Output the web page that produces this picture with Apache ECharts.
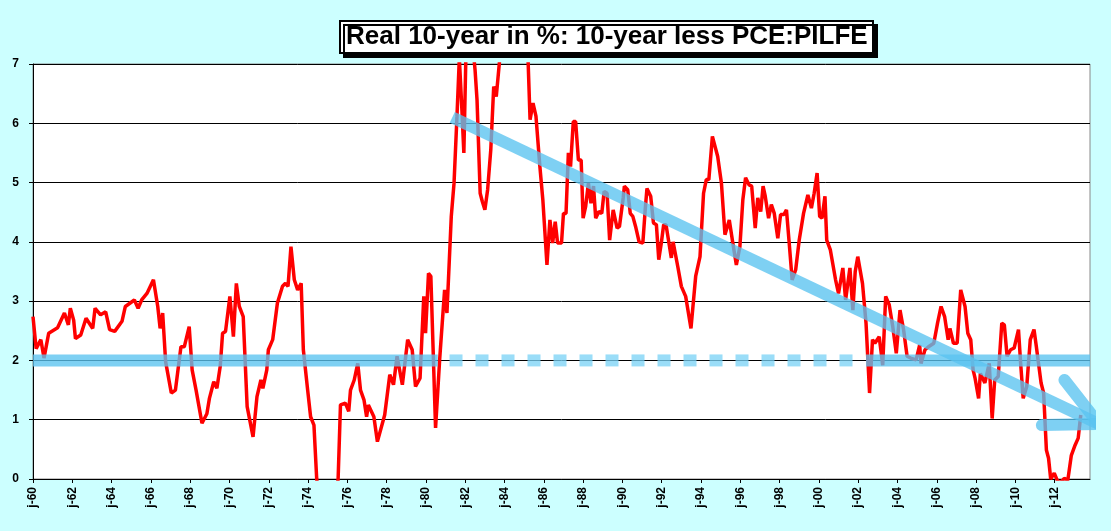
<!DOCTYPE html>
<html><head><meta charset="utf-8">
<script src="https://cdn.jsdelivr.net/npm/echarts@6/dist/echarts.min.js"></script>
<style>html,body{margin:0;padding:0;background:#CCFFFF}#c{width:1111px;height:531px}</style>
</head><body><div id="c"></div>
<script>
const years = [1960.0,1960.16,1960.4,1960.56,1960.8,1961.25,1961.6,1961.8,1961.9,1962.07,1962.16,1962.43,1962.7,1963.04,1963.16,1963.44,1963.7,1963.9,1964.16,1964.53,1964.7,1965.16,1965.35,1965.53,1965.8,1966.13,1966.35,1966.47,1966.6,1966.75,1967.04,1967.25,1967.53,1967.7,1967.95,1968.1,1968.3,1968.6,1968.85,1968.98,1969.2,1969.36,1969.53,1969.65,1969.8,1970.02,1970.2,1970.35,1970.5,1970.7,1970.9,1971.2,1971.4,1971.6,1971.7,1971.9,1971.98,1972.2,1972.44,1972.7,1972.85,1972.98,1973.13,1973.3,1973.47,1973.65,1973.76,1973.98,1974.13,1974.3,1974.44,1974.7,1975.0,1975.3,1975.53,1975.65,1975.9,1976.07,1976.16,1976.35,1976.53,1976.67,1976.85,1976.98,1977.07,1977.35,1977.53,1977.9,1978.16,1978.35,1978.53,1978.8,1979.07,1979.3,1979.47,1979.7,1979.89,1979.98,1980.13,1980.25,1980.49,1980.7,1980.95,1981.07,1981.29,1981.43,1981.58,1981.7,1981.83,1981.93,1982.05,1982.3,1982.5,1982.6,1982.76,1982.87,1983.0,1983.14,1983.3,1983.45,1983.58,1983.76,1984.2,1984.7,1985.2,1985.3,1985.45,1985.6,1985.8,1985.95,1986.16,1986.31,1986.45,1986.58,1986.7,1986.9,1987.0,1987.13,1987.25,1987.36,1987.5,1987.62,1987.76,1987.9,1988.0,1988.13,1988.27,1988.4,1988.53,1988.64,1988.8,1988.95,1989.07,1989.22,1989.35,1989.53,1989.73,1989.85,1990.04,1990.1,1990.27,1990.4,1990.53,1990.67,1990.85,1991.04,1991.16,1991.25,1991.44,1991.58,1991.73,1991.85,1991.98,1992.1,1992.22,1992.49,1992.58,1992.82,1993.0,1993.22,1993.49,1993.73,1993.95,1994.13,1994.27,1994.4,1994.58,1994.85,1995.04,1995.22,1995.44,1995.62,1995.8,1995.98,1996.13,1996.27,1996.45,1996.58,1996.76,1996.89,1997.04,1997.16,1997.27,1997.44,1997.58,1997.73,1997.91,1998.05,1998.22,1998.35,1998.49,1998.64,1998.82,1999.0,1999.22,1999.44,1999.62,1999.76,1999.91,2000.04,2000.16,2000.31,2000.4,2000.58,2000.85,2001.0,2001.22,2001.36,2001.58,2001.73,2001.85,2001.98,2002.22,2002.4,2002.58,2002.73,2002.85,2003.07,2003.25,2003.4,2003.58,2003.76,2003.94,2004.13,2004.31,2004.49,2004.67,2004.95,2005.13,2005.2,2005.4,2005.58,2005.85,2006.04,2006.22,2006.4,2006.58,2006.67,2006.85,2007.04,2007.22,2007.44,2007.58,2007.73,2007.85,2007.95,2008.13,2008.22,2008.45,2008.67,2008.82,2008.95,2009.13,2009.31,2009.44,2009.58,2009.76,2009.94,2010.16,2010.27,2010.4,2010.58,2010.76,2010.95,2011.07,2011.31,2011.44,2011.58,2011.69,2011.8,2011.98,2012.13,2012.27,2012.49,2012.67,2012.85,2013.04,2013.2,2013.33,2013.44];
const realRate = [2.74,2.2,2.35,2.04,2.46,2.55,2.8,2.6,2.88,2.68,2.37,2.43,2.71,2.54,2.88,2.77,2.82,2.52,2.49,2.66,2.91,3.02,2.88,3.02,3.13,3.36,2.91,2.54,2.8,1.98,1.45,1.5,2.23,2.23,2.57,1.84,1.5,0.94,1.1,1.36,1.64,1.53,1.9,2.46,2.49,3.08,2.4,3.3,2.91,2.74,1.22,0.71,1.39,1.67,1.53,1.84,2.18,2.35,2.97,3.25,3.3,3.25,3.92,3.36,3.19,3.3,2.18,1.5,1.05,0.91,0,-0.7,-1.0,-0.6,0,1.25,1.28,1.14,1.5,1.67,1.95,1.5,1.33,1.05,1.25,1.05,0.63,1.08,1.76,1.59,2.07,1.59,2.35,2.18,1.56,1.7,3.08,2.46,3.47,3.42,0.86,2.02,3.19,2.8,4.43,4.99,6.12,7.1,6.23,5.5,7.4,7.6,6.9,6.4,4.82,4.68,4.54,4.88,5.55,6.62,6.45,7.1,7.8,7.6,7.05,6.06,6.34,6.12,5.27,4.71,3.61,4.37,3.98,4.34,3.98,3.98,4.48,4.48,5.5,5.27,6.03,6.03,5.38,5.38,4.4,4.6,4.99,4.65,4.94,4.4,4.51,4.48,4.85,4.82,4.03,4.54,4.23,4.26,4.74,4.94,4.88,4.48,4.43,4.26,4.0,3.98,4.54,4.9,4.77,4.32,4.29,3.7,3.98,4.29,4.29,3.73,4.0,3.58,3.25,3.08,2.54,3.42,3.75,4.82,5.05,5.05,5.78,5.44,4.99,4.12,4.37,3.98,3.61,3.92,4.71,5.08,4.96,4.94,4.23,4.74,4.51,4.94,4.77,4.4,4.63,4.48,4.06,4.46,4.46,4.54,3.98,3.36,3.53,4.03,4.48,4.79,4.57,4.82,5.16,4.43,4.4,4.77,4.03,3.87,3.36,3.13,3.56,3.02,3.56,2.85,3.5,3.75,3.3,2.63,1.45,2.35,2.29,2.4,1.92,3.08,2.94,2.57,2.12,2.85,2.52,2.07,2.04,2.01,2.26,1.95,2.18,2.23,2.29,2.63,2.91,2.74,2.35,2.54,2.29,2.29,3.19,2.91,2.46,2.35,1.84,1.7,1.36,1.78,1.62,1.95,1.02,1.67,1.73,2.63,2.6,2.07,2.18,2.21,2.52,1.95,1.36,1.56,2.35,2.52,2.23,1.62,1.45,0.49,0.35,0,0.1,-0.02,-0.07,0.01,-0.02,0.4,0.57,0.69,1.08];
const level2Solid1 = [[1960,2],[1980.6,2]];
const level2Dashed = [[1981.2,2],[2002.3,2]];
const level2Solid2 = [[2002.4,2],[2013.8,2]];
const trendLine = [[1981.34,6.1],[2014.25,0.93]];
const arrowHead1 = [[2012.5,1.67],[2014.25,0.93]];
const arrowHead2 = [[2011.35,0.91],[2014.25,0.93]];
const yTicks = [0,1,2,3,4,5,6,7];

const blue = 'rgba(90,195,240,0.78)';
function blueLine(d, extra){
  return Object.assign({type:'line',data:d,showSymbol:false,silent:true,z:5,clip:false,
    lineStyle:{color:blue,width:12,cap:'butt'}},extra||{});
}
const chart = echarts.init(document.getElementById('c'));
chart.setOption({
  backgroundColor:'#CCFFFF',
  animation:false,
  title:{text:'Real 10-year in %: 10-year less PCE:PILFE',left:340,top:21,
    backgroundColor:'#fff',borderColor:'#000',borderWidth:2,padding:[3,6,3,6],
    shadowColor:'#000',shadowOffsetX:4,shadowOffsetY:4,shadowBlur:0,
    textStyle:{fontFamily:'Arial, Liberation Sans',fontWeight:'bold',fontSize:26,color:'#000'}},
  grid:{left:33,right:21,top:64,bottom:52,show:true,backgroundColor:'#fff',borderColor:'#888',borderWidth:1},
  xAxis:{type:'value',min:1960,max:2013.8,interval:2,
    axisLine:{lineStyle:{color:'#000'}},axisTick:{show:true,length:4,lineStyle:{color:'#000'}},
    splitLine:{show:false},
    axisLabel:{rotate:90,showMaxLabel:false,fontFamily:'Arial, Liberation Sans',fontWeight:'bold',fontSize:12,color:'#000',
      formatter:v=>'j-'+String(Math.round(v)%100).padStart(2,'0')}},
  yAxis:{type:'value',min:0,max:7,interval:1,
    axisLine:{show:true,lineStyle:{color:'#000'}},axisTick:{show:true,length:4,lineStyle:{color:'#000'}},
    splitLine:{lineStyle:{color:'#000',width:1}},
    axisLabel:{fontFamily:'Arial, Liberation Sans',fontWeight:'bold',fontSize:12,color:'#000',margin:14,
      formatter:v=>yTicks.includes(v)?String(v):''}},
  series:[
    {type:'line',data:years.map((y,i)=>[y,realRate[i]]),showSymbol:false,z:3,
      lineStyle:{color:'#FF0000',width:3.5}},
    blueLine(level2Solid1),
    blueLine(level2Dashed,{lineStyle:{color:'rgba(120,210,245,0.75)',width:12,type:[13,13],cap:'butt'}}),
    blueLine(level2Solid2),
    blueLine(trendLine),
    blueLine(arrowHead1,{lineStyle:{color:blue,width:12,cap:'round'}}),
    blueLine(arrowHead2,{lineStyle:{color:blue,width:12,cap:'round'}})
  ]
});
</script></body></html>
